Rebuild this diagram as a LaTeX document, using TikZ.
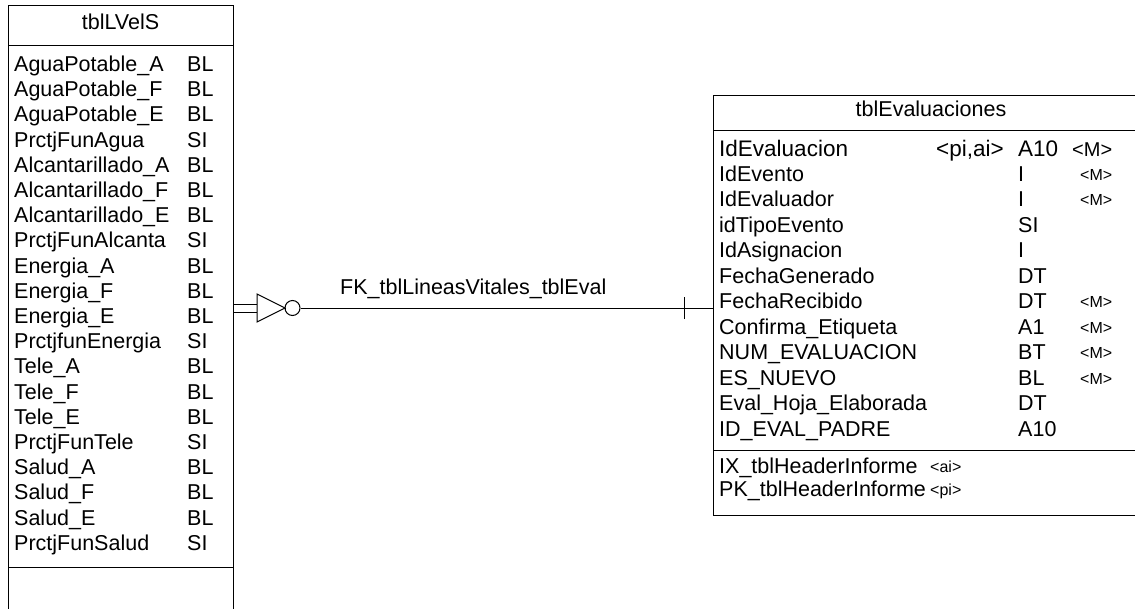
\documentclass[tikz,border=0pt]{standalone}
\usepackage{fontspec}
\newfontfamily\lsans{Liberation Sans}
\begin{document}
\begin{tikzpicture}[x=1pt,y=-1pt,
  frame/.style={draw=black, line width=1pt, inner sep=0pt, anchor=north west},
  rule/.style={draw=black, line width=1pt},
  fld/.style={anchor=west, inner sep=0pt, text height=15pt, text depth=4pt, font=\lsans\fontsize{21.5}{25}\selectfont},
  big/.style={anchor=west, inner sep=0pt, text height=16pt, text depth=4pt, font=\lsans\fontsize{22.5}{26}\selectfont},
  bigm/.style={anchor=west, inner sep=0pt, text height=16pt, text depth=4pt, font=\lsans\fontsize{20}{24}\selectfont},
  small/.style={anchor=west, inner sep=0pt, text height=12pt, text depth=3pt, font=\lsans\fontsize{16}{19}\selectfont},
  ttl/.style={inner sep=0pt, text height=15pt, text depth=4pt, font=\lsans\fontsize{21.5}{25}\selectfont},
  conn/.style={draw=black, line width=1pt}
]
\useasboundingbox (0,0) rectangle (1135,608);
\fill[white] (0,0) rectangle (1135,608);

% ---------------- left table ----------------
\node[frame, minimum width=225pt, minimum height=640pt] (ltab) at (8,5) {};
\draw[rule] (8,45) -- (233,45);
\draw[rule] (8,567) -- (233,567);
\node[ttl] (ltitle) at (120.5,24) {tblLVelS};
\foreach \n/\t [count=\i] in {
  AguaPotable\_A/BL, AguaPotable\_F/BL, AguaPotable\_E/BL, PrctjFunAgua/SI,
  Alcantarillado\_A/BL, Alcantarillado\_F/BL, Alcantarillado\_E/BL, PrctjFunAlcanta/SI,
  Energia\_A/BL, Energia\_F/BL, Energia\_E/BL, PrctjfunEnergia/SI,
  Tele\_A/BL, Tele\_F/BL, Tele\_E/BL, PrctjFunTele/SI,
  Salud\_A/BL, Salud\_F/BL, Salud\_E/BL, PrctjFunSalud/SI}{
  \node[fld] (ln\i) at (14,{66+25.2*(\i-1)}) {\n};
  \node[fld] (lt\i) at (187,{66+25.2*(\i-1)}) {\t};
}

% ---------------- right table ----------------
\node[frame, minimum width=460pt, minimum height=420pt] (rtab) at (713,95) {};
\draw[rule] (713,130) -- (1135,130);
\draw[rule] (713,450) -- (1135,450);
\node[ttl] (rtitle) at (931,111) {tblEvaluaciones};

\node[big] (rn1) at (719,150) {IdEvaluacion};
\node[big] (rk1) at (936,150) {<pi,ai>};
\node[big] (rt1) at (1018,150) {A10};
\node[bigm] (rm1) at (1072,150) {<M>};

\foreach \n/\t [count=\i from 2] in {
  IdEvento/I, IdEvaluador/I, idTipoEvento/SI, IdAsignacion/I, FechaGenerado/DT,
  FechaRecibido/DT, Confirma\_Etiqueta/A1, NUM\_EVALUACION/BT, ES\_NUEVO/BL,
  Eval\_Hoja\_Elaborada/DT, ID\_EVAL\_PADRE/A10}{
  \node[fld] (rn\i) at (719,{150+25.5*(\i-1)}) {\n};
  \node[fld] (rt\i) at (1018,{150+25.5*(\i-1)}) {\t};
}
\foreach \i in {2,3,7,8,9,10}{
  \node[small] (rm\i) at (1080,{150+25.5*(\i-1)}) {<M>};
}
\node[fld] (ix) at (719,468) {IX\_tblHeaderInforme};
\node[small] (ixk) at (930,468) {<ai>};
\node[fld] (pk) at (719,491) {PK\_tblHeaderInforme};
\node[small] (pkk) at (930,491) {<pi>};

% ---------------- connector ----------------
\coordinate (ca) at (ltab.east |- 0,308);
\coordinate (cb) at (rtab.west |- 0,308);
\coordinate (tb) at (257,308);
\coordinate (tt) at (285,308);
\node[draw=black, line width=1pt, circle, minimum size=15pt, inner sep=0pt] (circ) at (292.5,308) {};
\draw[conn] ([yshift=-4pt]ca) -- ([yshift=-4pt]tb);
\draw[conn] ([yshift=4pt]ca) -- ([yshift=4pt]tb);
\draw[conn] ([yshift=-14pt]tb) -- ([yshift=14pt]tb) -- (tt) -- cycle;
\draw[conn] (tt) -- (circ.west);
\draw[conn] (circ.east) -- (cb);
\coordinate (tick) at (684,308);
\draw[conn, line width=0.9pt] ([yshift=-11pt]tick) -- ([yshift=11pt]tick);
\node[fld, anchor=base west] (fk) at (340,294) {FK\_tblLineasVitales\_tblEval};
\end{tikzpicture}
\end{document}
